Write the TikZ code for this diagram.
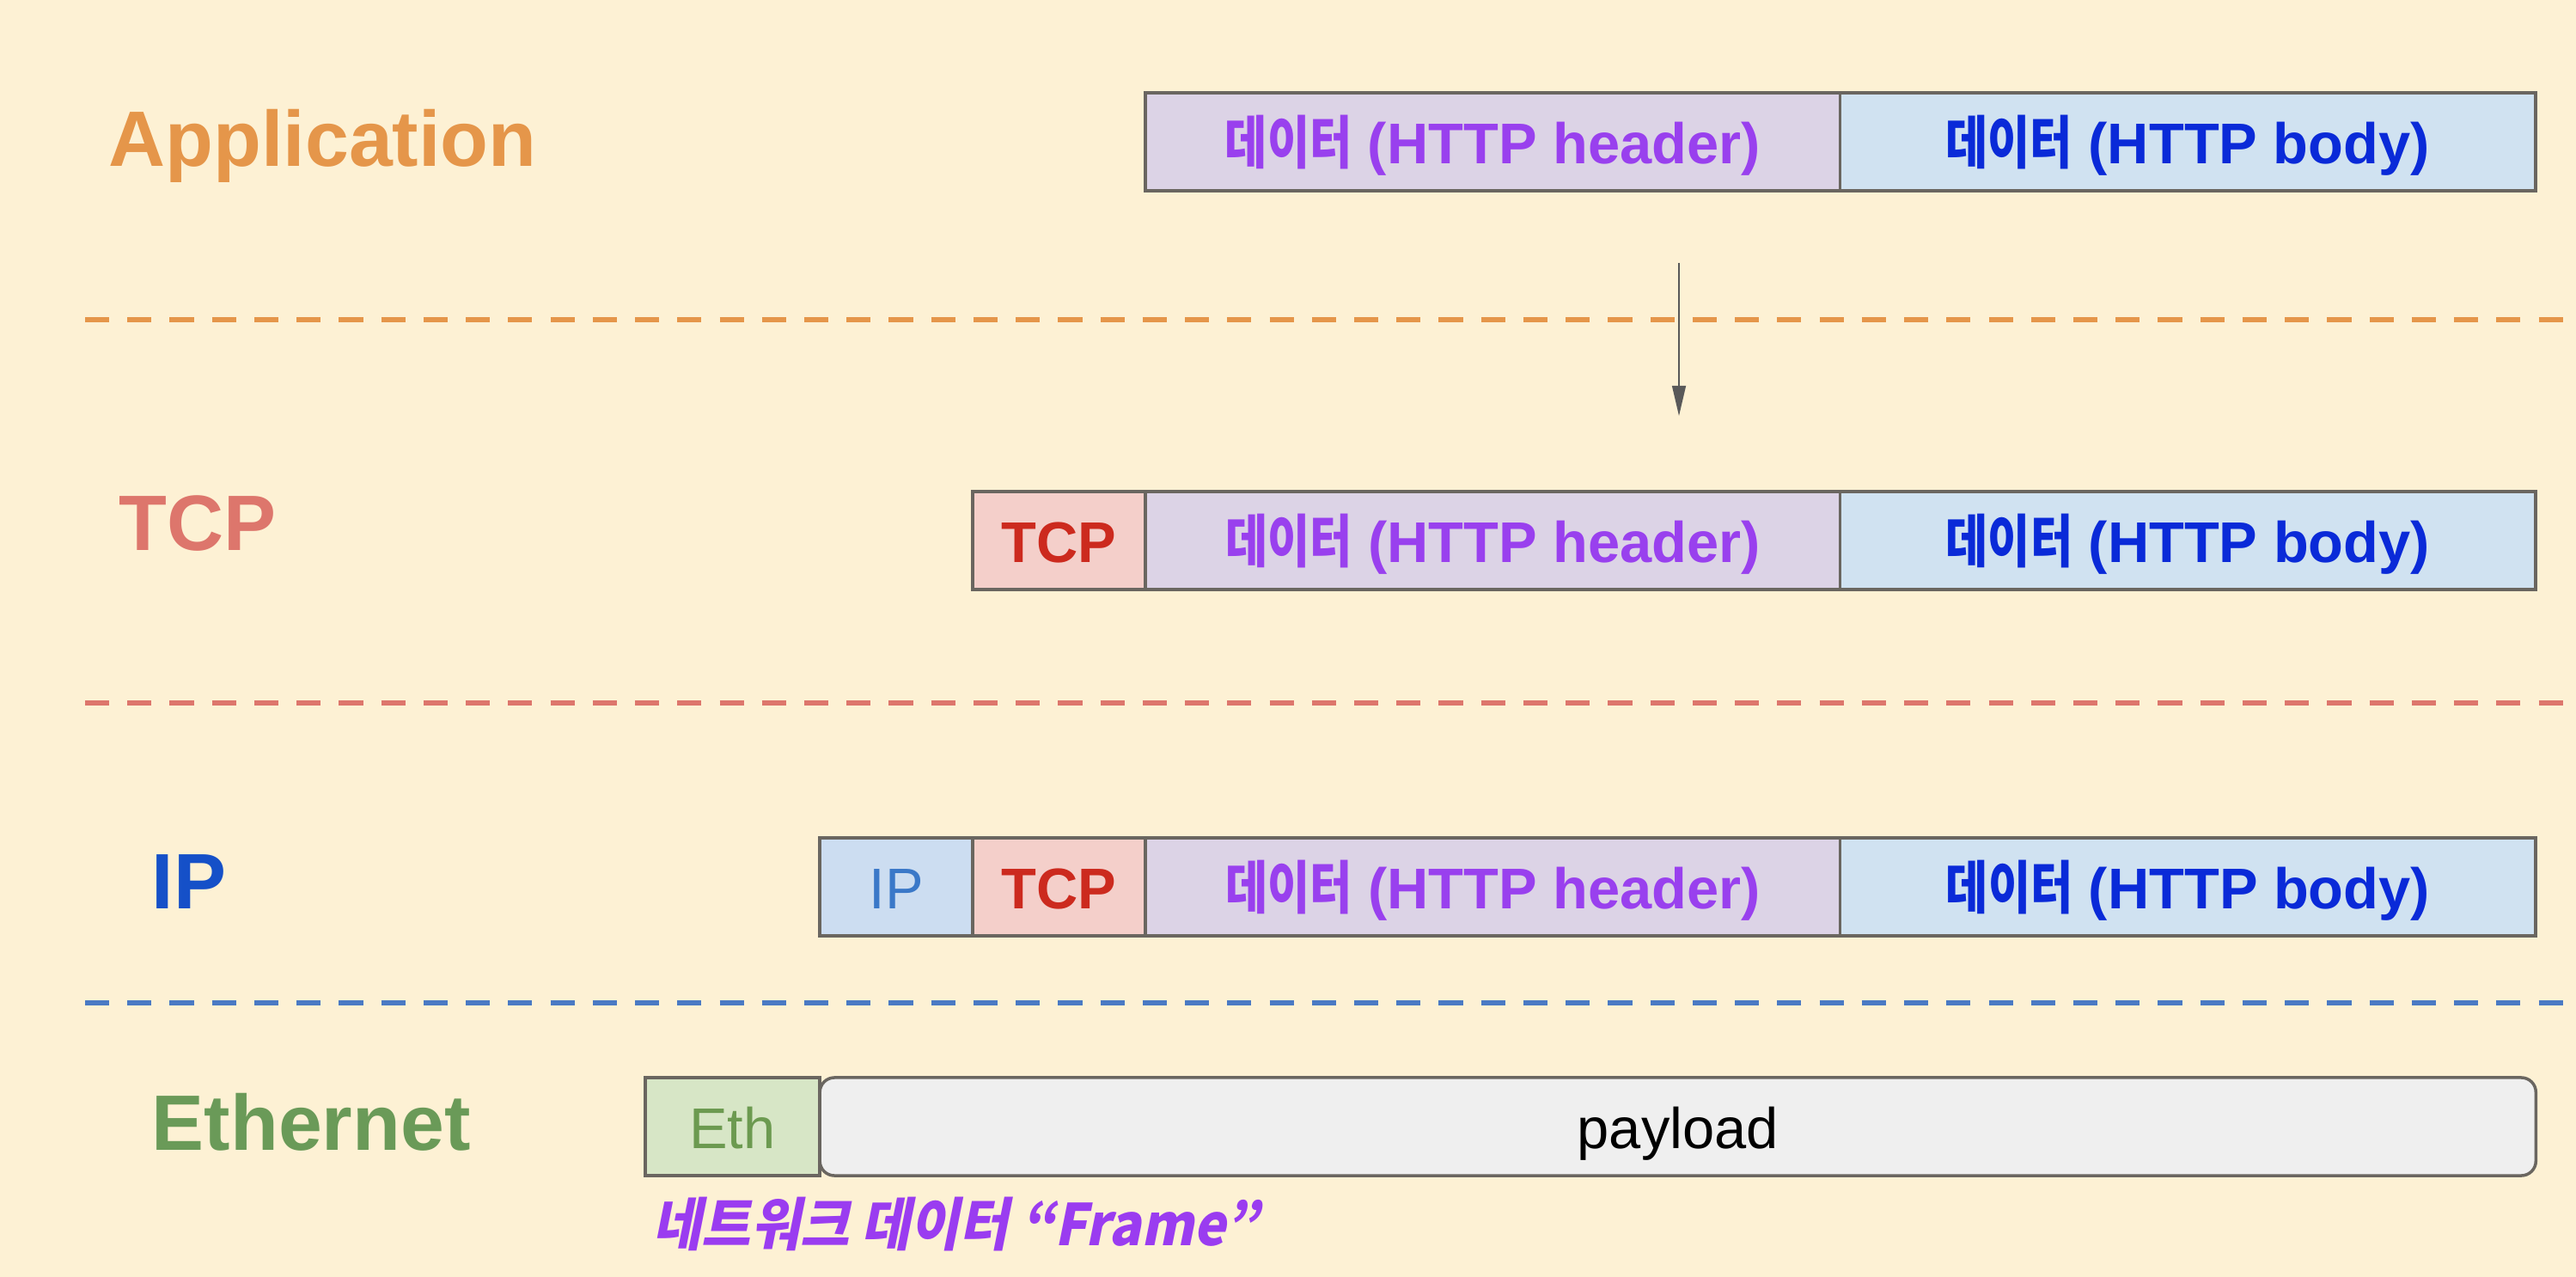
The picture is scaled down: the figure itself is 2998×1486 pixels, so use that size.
\documentclass[tikz,border=0pt]{standalone}
\usepackage{fontspec}
\setmainfont{Liberation Sans}
\newfontfamily\krfont[FakeStretch=0.8]{Noto Sans CJK KR}
\newfontfamily\krslant[FakeSlant=0.2,FakeStretch=0.93]{Noto Sans CJK KR}
\usetikzlibrary{positioning,arrows.meta}

\definecolor{bgcream}{HTML}{FDF1D4}
\definecolor{applabel}{HTML}{E5964A}
\definecolor{tcplabel}{HTML}{DD766C}
\definecolor{iplabel}{HTML}{1550C8}
\definecolor{ipline}{HTML}{4A7AC4}
\definecolor{ethlabel}{HTML}{6A9A58}
\definecolor{boxgray}{HTML}{6A6660}
\definecolor{hdrfill}{HTML}{DCD3E6}
\definecolor{hdrtext}{HTML}{9940EE}
\definecolor{bodyfill}{HTML}{D0E2F1}
\definecolor{bodytext}{HTML}{0A2AD8}
\definecolor{tcpfill}{HTML}{F4CFCA}
\definecolor{tcptext}{HTML}{CC2A1E}
\definecolor{ipfill}{HTML}{CCDDF1}
\definecolor{iptext}{HTML}{3A78C8}
\definecolor{ethfill}{HTML}{D7E6C6}
\definecolor{ethtext}{HTML}{6C9A50}
\definecolor{payfill}{HTML}{EFEFEF}
\definecolor{framecol}{HTML}{9A3CF0}

\newcommand{\data}{{\krfont 데이터}}

\tikzset{>={Triangle[length=10pt,width=4.5pt]}, % narrow head for the down arrow
x=0.01cm, y=-0.01cm, % one unit is one pixel of the screen, y goes down
layer/.style={anchor=base west, inner sep=0pt, font=\fontsize{26}{30}\selectfont\bfseries}, % layer names on the left
field/.style={draw=boxgray, line width=1pt, outer sep=0pt, inner sep=0pt, minimum height=1.14cm,
  text height=17pt, text depth=2.5pt, font=\fontsize{19}{22}\selectfont\bfseries}, % one field of a packet
plainfield/.style={field, font=\fontsize{19}{22}\selectfont}, % field with normal weight text
divider/.style={line width=1.7pt, dash pattern=on 8pt off 6pt}, % dashed line between two layers
}

\begin{document}
\begin{tikzpicture}
\useasboundingbox (0,0) rectangle (2998,1486);
\fill[bgcream] (0,0) rectangle (2998,1486);

% layer names
\node[layer, text=applabel] (app) at (126,194) {Application};
\node[layer, text=tcplabel] (tcp) at (138,641) {TCP};
\node[layer, text=iplabel] (ip) at (176,1057) {IP};
\node[layer, text=ethlabel] (eth) at (176,1338) {Ethernet};

% layer borders
\draw[divider, applabel] (99,372) -- (2998,372);
\draw[divider, tcplabel] (99,818) -- (2998,818);
\draw[divider, ipline] (99,1167) -- (2998,1167);

% application
\node[field, fill=hdrfill, text=hdrtext, minimum width=8.08cm, anchor=west] (apphdr) at (1333,165) {\data{} (HTTP header)};
\node[field, fill=bodyfill, text=bodytext, minimum width=8.09cm, right=0pt of apphdr] (appbody) {\data{} (HTTP body)};

\coordinate (down1) at (1954,306);
\coordinate (down2) at (1954,484);
\draw[->, line width=0.6pt, black!65] (down1) -- (down2);

% tcp
\node[field, fill=tcpfill, text=tcptext, minimum width=2.01cm, anchor=west] (tcptcp) at (1132,629) {TCP};
\node[field, fill=hdrfill, text=hdrtext, minimum width=8.08cm, right=0pt of tcptcp] (tcphdr) {\data{} (HTTP header)};
\node[field, fill=bodyfill, text=bodytext, minimum width=8.09cm, right=0pt of tcphdr] (tcpbody) {\data{} (HTTP body)};

% ip
\node[plainfield, fill=ipfill, text=iptext, minimum width=1.78cm, anchor=west] (ipip) at (954,1032) {IP};
\node[field, fill=tcpfill, text=tcptext, minimum width=2.01cm, right=0pt of ipip] (iptcp) {TCP};
\node[field, fill=hdrfill, text=hdrtext, minimum width=8.08cm, right=0pt of iptcp] (iphdr) {\data{} (HTTP header)};
\node[field, fill=bodyfill, text=bodytext, minimum width=8.09cm, right=0pt of iphdr] (ipbody) {\data{} (HTTP body)};

% ethernet
\node[plainfield, fill=ethfill, text=ethtext, minimum width=2.03cm, anchor=west] (etheth) at (751,1311) {Eth};
\node[plainfield, fill=payfill, text=black, minimum width=19.96cm, rounded corners=0.17cm, right=0pt of etheth] (payload) {payload};
\node[anchor=west, inner sep=0pt, text=framecol, font=\fontsize{19}{22}\krslant\bfseries] (frame) at (759,1424) {네트워크 데이터 “Frame”};
\end{tikzpicture}
\end{document}
